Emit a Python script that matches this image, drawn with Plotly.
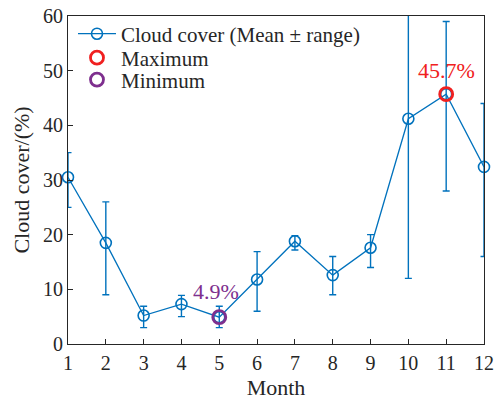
import plotly.graph_objects as go

months = [1, 2, 3, 4, 5, 6, 7, 8, 9, 10, 11, 12]
mean_cover = [30.5, 18.5, 5.2, 7.3, 4.9, 11.8, 18.8, 12.6, 17.6, 41.2, 45.7, 32.4]
upper_val = [35, 26, 6.9, 8.9, 6.9, 16.9, 19.8, 16, 20, 72, 59, 44]
lower_val = [25, 9, 3, 5, 3, 6, 17.2, 9, 14, 12, 28, 16]
max_month, max_val = 11, 45.7
min_month, min_val = 5, 4.9
y_ticks = [0, 10, 20, 30, 40, 50, 60]

err_plus = [u - m for u, m in zip(upper_val, mean_cover)]
err_minus = [m - l for m, l in zip(mean_cover, lower_val)]

blue = "#0072BD"
red = "#F02020"
purple = "#7E2F8E"
dark = "#262626"
font = "Liberation Serif"

fig = go.Figure()
fig.add_trace(go.Scatter(
    x=months, y=mean_cover, mode="lines+markers",
    name="Cloud cover (Mean \u00b1 range)", legend="legend",
    line=dict(color=blue, width=1.3),
    marker=dict(symbol="circle-open", size=11, color=blue, line=dict(width=1.6)),
    error_y=dict(type="data", symmetric=False, array=err_plus, arrayminus=err_minus,
                 color=blue, thickness=1.4, width=3.5),
    cliponaxis=False,
))
fig.add_trace(go.Scatter(
    x=[max_month], y=[max_val], mode="markers", name="Maximum", legend="legend2",
    marker=dict(symbol="circle-open", size=13, color=red, line=dict(width=2.8)),
    cliponaxis=False,
))
fig.add_trace(go.Scatter(
    x=[min_month], y=[min_val], mode="markers", name="Minimum", legend="legend3",
    marker=dict(symbol="circle-open", size=13, color=purple, line=dict(width=2.8)),
    cliponaxis=False,
))

fig.add_annotation(x=max_month, y=max_val, text=f"{max_val}%", showarrow=False,
                   yshift=24, font=dict(family=font, size=22, color=red))
fig.add_annotation(x=min_month, y=min_val, text=f"{min_val}%", showarrow=False,
                   yshift=26, xshift=-3, font=dict(family=font, size=22, color=purple))

axis_common = dict(showline=True, linecolor=dark, linewidth=1.2, mirror=True,
                   ticks="inside", ticklen=5, tickcolor=dark, showgrid=False,
                   zeroline=False, ticklabeloverflow="allow", automargin=False,
                   tickfont=dict(family=font, size=20, color=dark))

leg_common = dict(xref="paper", yref="paper", x=0.012, xanchor="left", yanchor="middle",
                  bgcolor="rgba(0,0,0,0)", itemwidth=38,
                  font=dict(family=font, size=21, color=dark))

fig.update_layout(
    width=496, height=400,
    margin=dict(l=68, r=12, t=16, b=56, autoexpand=False),
    plot_bgcolor="white", paper_bgcolor="white",
    font=dict(family=font, size=20, color=dark),
    showlegend=True,
    legend=dict(y=0.945, **leg_common),
    legend2=dict(y=0.872, **leg_common),
    legend3=dict(y=0.805, **leg_common),
    xaxis=dict(range=[1, 12], tickvals=months, ticklabelstandoff=1,
               title=dict(text="Month", standoff=6, font=dict(family=font, size=22)),
               **axis_common),
    yaxis=dict(range=[0, 60], tickvals=y_ticks,
               title=dict(text="Cloud cover/(%)", standoff=7, font=dict(family=font, size=22)),
               **axis_common),
)

fig.write_html("out.html", config={"displayModeBar": False},
               post_script="document.body.style.margin='0';document.body.style.overflow='hidden';")
